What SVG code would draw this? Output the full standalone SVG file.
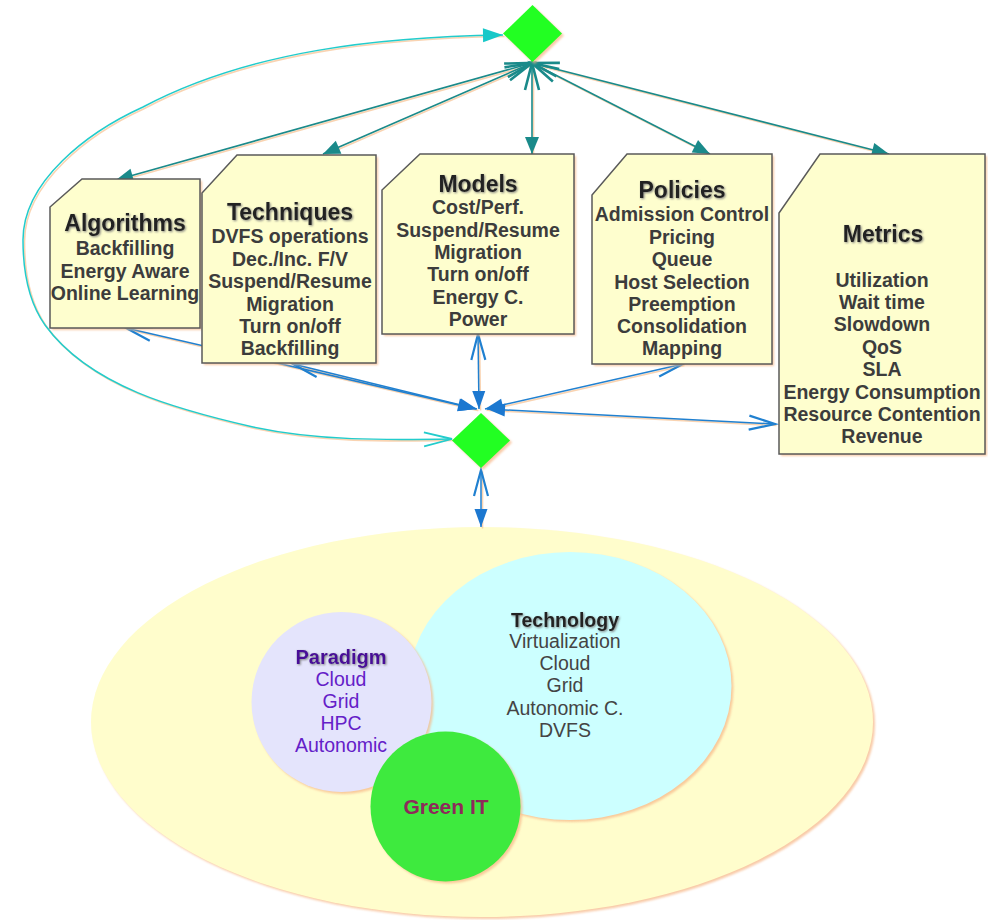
<svg xmlns="http://www.w3.org/2000/svg" width="988" height="920" viewBox="0 0 988 920">
<style>
text{font-family:"Liberation Sans",Arial,sans-serif;text-anchor:middle}
.t{font-size:23px;font-weight:bold;fill:#222}
.b{font-size:19.5px;font-weight:bold;fill:#3c3c3c}
.note{fill:#FEFECE;stroke:#5a5a5a;stroke-width:1.5}
.sh{fill:#F7B98A;opacity:.75;filter:url(#blur)}
.teal{stroke:#1A8A8A;stroke-width:1.6;fill:none;marker-start:url(#tealOpen);marker-end:url(#tealFill)}
.blue{stroke:#2080D0;stroke-width:1.5;fill:none;marker-start:url(#blueOpen);marker-end:url(#blueFill)}
.lsh{stroke:#F7C89E;stroke-width:1.6;fill:none;opacity:.8}
</style>
<defs>
<filter id="blur" x="-10%" y="-10%" width="120%" height="120%"><feGaussianBlur stdDeviation="1"/></filter>
<filter id="tsh" x="-10%" y="-20%" width="120%" height="140%"><feDropShadow dx="1" dy="1" stdDeviation="0.9" flood-color="#777" flood-opacity="0.9"/></filter>
<marker id="tealFill" markerUnits="userSpaceOnUse" markerWidth="17" markerHeight="14" refX="17" refY="7" orient="auto" overflow="visible"><path d="M0,0 L17,7 L0,14 Z" fill="#1A8A8A"/></marker>
<marker id="tealOpen" markerUnits="userSpaceOnUse" markerWidth="28" markerHeight="16" refX="27" refY="7" orient="auto-start-reverse" overflow="visible"><path d="M0,0 L27,7 L0,14" fill="none" stroke="#1A8A8A" stroke-width="2.6"/></marker>
<marker id="blueFill" markerUnits="userSpaceOnUse" markerWidth="18" markerHeight="13" refX="18" refY="6.5" orient="auto" overflow="visible"><path d="M0,0 L18,6.5 L0,13 Z" fill="#1C78D0"/></marker>
<marker id="blueOpen" markerUnits="userSpaceOnUse" markerWidth="26" markerHeight="14" refX="26" refY="7" orient="auto-start-reverse" overflow="visible"><path d="M0,0 L26,7 L0,14" fill="none" stroke="#2080D0" stroke-width="2.2"/></marker>
<marker id="cyanFill" markerUnits="userSpaceOnUse" markerWidth="20" markerHeight="14" refX="20" refY="7" orient="auto" overflow="visible"><path d="M0,0 L20,7 L0,14 Z" fill="#18C8C8"/></marker>
<marker id="cyanOpen" markerUnits="userSpaceOnUse" markerWidth="28" markerHeight="14" refX="28" refY="7" orient="auto-start-reverse" overflow="visible"><path d="M0,0 L28,7 L0,14" fill="none" stroke="#22CCCC" stroke-width="1.8"/></marker>
</defs>

<g id="env">
<ellipse cx="484" cy="724" rx="391" ry="195" class="sh"/>
<ellipse cx="482" cy="722" rx="391" ry="195" fill="#FFFDCC"/>
<ellipse cx="572" cy="688" rx="161.5" ry="134" class="sh"/>
<ellipse cx="570" cy="686" rx="161.5" ry="134" fill="#CCFFFF"/>
<circle cx="343.5" cy="704" r="90" class="sh"/>
<circle cx="341.5" cy="702" r="90" fill="#E4E4FC"/>
<circle cx="447.5" cy="808.5" r="75" class="sh"/>
<circle cx="445.5" cy="806.5" r="75" fill="#3EEA3E"/>
<text x="565" y="627" style="font-size:19.5px;font-weight:bold;fill:#222;filter:url(#tsh)">Technology</text>
<g style="font-size:19.5px;fill:#444">
<text x="565" y="648">Virtualization</text>
<text x="565" y="670">Cloud</text>
<text x="565" y="692">Grid</text>
<text x="565" y="715">Autonomic C.</text>
<text x="565" y="737">DVFS</text>
</g>
<text x="341" y="664" style="font-size:20px;font-weight:bold;fill:#4A0898;filter:url(#tsh)">Paradigm</text>
<g style="font-size:19.5px;fill:#6420C8">
<text x="341" y="686">Cloud</text>
<text x="341" y="708">Grid</text>
<text x="341" y="730">HPC</text>
<text x="341" y="752">Autonomic</text>
</g>
<text x="446" y="814" style="font-size:21px;font-weight:bold;fill:#8E2A5A">Green IT</text>
</g>

<g id="connectors">
<g transform="translate(1.5,1.5)">
<path class="lsh" d="M452,439 C385,440 318,441 253,427 C179,410 90,387 45,325 C28,301 23,269 23,240 C23,181 88,132 143,107 C251,50 381,37 503,35"/>
<path class="lsh" d="M532,63 L116,180 M532,63 L323,154 M532,63 L532,154 M532,63 L710,154 M532,63 L889,154"/>
<path class="lsh" d="M126,328 L476,409 M293,364 L477,409 M478,334 L479,409 M683,364 L485,409 M775,424 L487,409 M481,470 L481,527"/>
</g>
<path d="M452,439 C385,440 318,441 253,427 C179,410 90,387 45,325 C28,301 23,269 23,240 C23,181 88,132 143,107 C251,50 381,37 503,35" fill="none" stroke="#22CCCC" stroke-width="1.5" marker-start="url(#cyanOpen)" marker-end="url(#cyanFill)"/>
<path class="teal" d="M532,63 L116,180"/>
<path class="teal" d="M532,63 L323,154"/>
<path class="teal" d="M532,63 L532,154"/>
<path class="teal" d="M532,63 L710,154"/>
<path class="teal" d="M532,63 L889,154"/>
<path class="blue" d="M126,328 L476,409"/>
<path class="blue" d="M293,364 L477,409"/>
<path class="blue" d="M478,334 L479,409"/>
<path class="blue" d="M683,364 L485,409"/>
<path class="blue" d="M775,424 L487,409"/>
<path class="blue" d="M481,470 L481,527"/>
</g>

<g id="topDiamond">
<path d="M534.5,7 L564,35.5 L534.5,64 L505,35.5 Z" class="sh"/>
<path d="M532.5,5 L562,33.5 L532.5,62 L503,33.5 Z" fill="#22FF22"/>
</g>
<g id="bottomDiamond">
<path d="M483,415 L512,442.5 L483,470 L454,442.5 Z" class="sh"/>
<path d="M481,413 L510,440.5 L481,468 L452,440.5 Z" fill="#22FF22"/>
</g>

<g id="algorithms">
<path d="M84,181 L202,181 L202,330 L52,330 L52,209 Z" class="sh"/>
<path d="M82,179 L200,179 L200,328 L50,328 L50,207 Z" class="note"/>
<text x="125" y="231" class="t" filter="url(#tsh)">Algorithms</text>
<text x="125" y="255" class="b">Backfilling</text>
<text x="125" y="277.5" class="b">Energy Aware</text>
<text x="125" y="300" class="b">Online Learning</text>
</g>

<g id="techniques">
<path d="M239,157 L378,157 L378,365 L204,365 L204,195 Z" class="sh"/>
<path d="M237,155 L376,155 L376,363 L202,363 L202,193 Z" class="note"/>
<text x="290" y="220" class="t" filter="url(#tsh)">Techniques</text>
<text x="290" y="243" class="b">DVFS operations</text>
<text x="290" y="265.5" class="b">Dec./Inc. F/V</text>
<text x="290" y="288" class="b">Suspend/Resume</text>
<text x="290" y="310.5" class="b">Migration</text>
<text x="290" y="333" class="b">Turn on/off</text>
<text x="290" y="355" class="b">Backfilling</text>
</g>

<g id="models">
<path d="M422,156 L576,156 L576,336 L384,336 L384,192 Z" class="sh"/>
<path d="M420,154 L574,154 L574,334 L382,334 L382,190 Z" class="note"/>
<text x="478" y="192" class="t" filter="url(#tsh)">Models</text>
<text x="478" y="214" class="b">Cost/Perf.</text>
<text x="478" y="236.5" class="b">Suspend/Resume</text>
<text x="478" y="259" class="b">Migration</text>
<text x="478" y="281" class="b">Turn on/off</text>
<text x="478" y="303.5" class="b">Energy C.</text>
<text x="478" y="326" class="b">Power</text>
</g>

<g id="policies">
<path d="M629,156 L774,156 L774,366 L594,366 L594,197 Z" class="sh"/>
<path d="M627,154 L772,154 L772,364 L592,364 L592,195 Z" class="note"/>
<text x="682" y="198" class="t" filter="url(#tsh)">Policies</text>
<text x="682" y="221" class="b">Admission Control</text>
<text x="682" y="244" class="b">Pricing</text>
<text x="682" y="266" class="b">Queue</text>
<text x="682" y="288.5" class="b">Host Selection</text>
<text x="682" y="311" class="b">Preemption</text>
<text x="682" y="333" class="b">Consolidation</text>
<text x="682" y="355" class="b">Mapping</text>
</g>

<g id="metrics">
<path d="M822,156 L987,156 L987,456 L781,456 L781,215 Z" class="sh"/>
<path d="M820,154 L985,154 L985,454 L779,454 L779,213 Z" class="note"/>
<text x="883" y="242" class="t" filter="url(#tsh)">Metrics</text>
<text x="882" y="286.5" class="b">Utilization</text>
<text x="882" y="309" class="b">Wait time</text>
<text x="882" y="331" class="b">Slowdown</text>
<text x="882" y="354" class="b">QoS</text>
<text x="882" y="376" class="b">SLA</text>
<text x="882" y="399" class="b">Energy Consumption</text>
<text x="882" y="421" class="b">Resource Contention</text>
<text x="882" y="443" class="b">Revenue</text>
</g>
</svg>
